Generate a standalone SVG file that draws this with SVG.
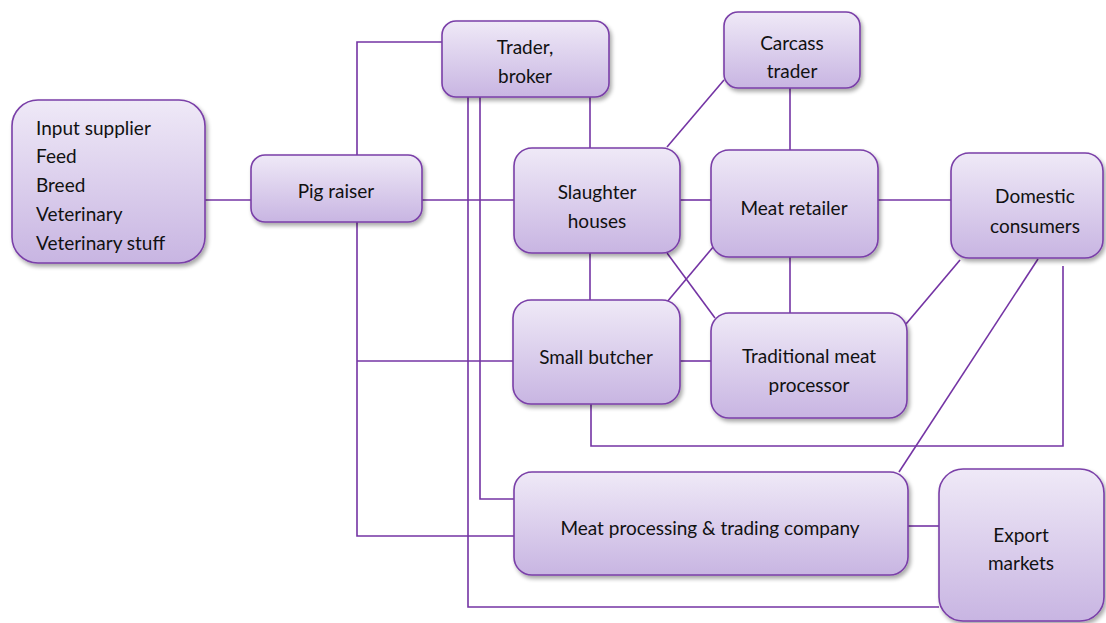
<svg xmlns="http://www.w3.org/2000/svg" width="1106" height="623" viewBox="0 0 1106 623">
<defs>
<linearGradient id="g" x1="0" y1="0" x2="0" y2="1">
<stop offset="0" stop-color="#efe9f7"/>
<stop offset="1" stop-color="#c8b5e2"/>
</linearGradient>
<filter id="sh" x="-10%" y="-10%" width="125%" height="130%">
<feGaussianBlur in="SourceAlpha" stdDeviation="2"/>
<feOffset dx="2" dy="3"/>
<feComponentTransfer><feFuncA type="linear" slope="0.35"/></feComponentTransfer>
<feMerge><feMergeNode/><feMergeNode in="SourceGraphic"/></feMerge>
</filter>
</defs>
<style>
.n rect{fill:url(#g);stroke:#7a3fa8;stroke-width:1.6;filter:url(#sh)}
.n text{font-family:Lato,"Open Sans","Liberation Sans",sans-serif;font-size:19px;fill:#111;text-anchor:middle;dominant-baseline:central}
.n text.l{text-anchor:start}
#connectors path{fill:none;stroke:#7434a4;stroke-width:1.6}
</style>
<rect width="1106" height="623" fill="#fff"/>
<g id="connectors">
<path d="M205 200H251"/>
<path d="M422 200H514"/>
<path d="M357 155V42H442"/>
<path d="M357 222V536H514"/>
<path d="M357 361H513"/>
<path d="M468 97V607H939"/>
<path d="M480 97V499H514"/>
<path d="M590 97V148"/>
<path d="M667 147L724 80"/>
<path d="M790 88V150"/>
<path d="M680 200H711"/>
<path d="M878 200H951"/>
<path d="M590 253V300"/>
<path d="M667 253L715 318"/>
<path d="M714 246L667 302"/>
<path d="M790 257V313"/>
<path d="M680 361H711"/>
<path d="M906 324L960 260"/>
<path d="M1038 259L899 472"/>
<path d="M1063 266V446H591V404"/>
<path d="M908 526H939"/>
</g>
<g id="input" class="n">
<rect x="12" y="100" width="193" height="163" rx="26"/>
<text class="l" x="36" y="127">Input supplier</text>
<text class="l" x="36" y="155">Feed</text>
<text class="l" x="36" y="184">Breed</text>
<text class="l" x="36" y="213">Veterinary</text>
<text class="l" x="36" y="242">Veterinary stuff</text>
</g>
<g id="pig" class="n">
<rect x="251" y="155" width="171" height="67" rx="14"/>
<text x="336" y="190">Pig raiser</text>
</g>
<g id="trader" class="n">
<rect x="442" y="21" width="167" height="76" rx="14"/>
<text x="525" y="46">Trader,</text>
<text x="525" y="75">broker</text>
</g>
<g id="carcass" class="n">
<rect x="724" y="12" width="136" height="76" rx="14"/>
<text x="792" y="42">Carcass</text>
<text x="792" y="70">trader</text>
</g>
<g id="slaughter" class="n">
<rect x="514" y="148" width="166" height="105" rx="18"/>
<text x="597" y="191">Slaughter</text>
<text x="597" y="220">houses</text>
</g>
<g id="retailer" class="n">
<rect x="711" y="150" width="167" height="107" rx="18"/>
<text x="794" y="207">Meat retailer</text>
</g>
<g id="domestic" class="n">
<rect x="951" y="153" width="152" height="105" rx="18"/>
<text x="1035" y="195">Domestic</text>
<text x="1035" y="225">consumers</text>
</g>
<g id="butcher" class="n">
<rect x="513" y="300" width="167" height="104" rx="18"/>
<text x="596" y="356">Small butcher</text>
</g>
<g id="traditional" class="n">
<rect x="711" y="313" width="196" height="105" rx="18"/>
<text x="809" y="355">Traditional meat</text>
<text x="809" y="384">processor</text>
</g>
<g id="company" class="n">
<rect x="514" y="472" width="394" height="103" rx="18"/>
<text x="710" y="527">Meat processing &amp; trading company</text>
</g>
<g id="export" class="n">
<rect x="939" y="469" width="165" height="152" rx="24"/>
<text x="1021" y="534">Export</text>
<text x="1021" y="562">markets</text>
</g>
</svg>
